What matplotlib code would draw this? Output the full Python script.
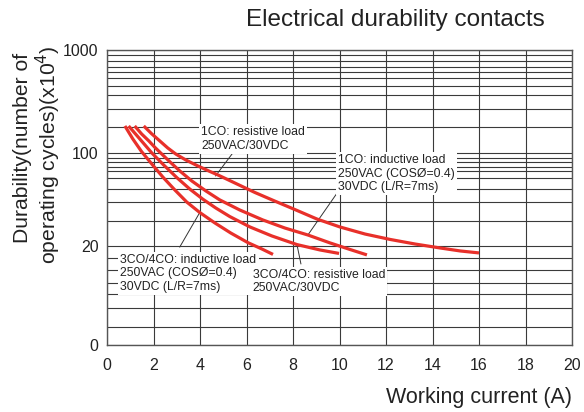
import numpy as np
import matplotlib.pyplot as plt
from matplotlib.scale import FuncScale

plt.rcParams['font.family'] = ['Liberation Sans', 'DejaVu Sans']

# durability curves, x = working current (A), y = durability (x10^4)
x_3co_ind = [0.77, 1.11, 1.49, 1.93, 2.40, 2.92, 3.43, 3.99, 4.64, 5.33, 6.06, 6.66, 7.14]
y_3co_ind = [183, 137, 103, 82.6, 66.0, 52.7, 42.8, 35.7, 29.8, 25.0, 21.2, 19.4, 18.3]
x_3co_res = [0.93, 1.41, 1.93, 2.44, 3.00, 3.56, 4.12, 4.68, 5.28, 6.15, 7.09, 8.17, 9.16, 9.98]
y_3co_res = [183, 137, 100, 81.2, 65.4, 53.6, 45.0, 38.6, 33.3, 27.8, 23.8, 20.5, 19.2, 18.5]
x_1co_ind = [1.19, 1.49, 1.80, 2.05, 2.31, 2.71, 3.13, 3.65, 4.25, 4.85, 5.71, 6.70, 7.65,
             8.64, 9.59, 10.45, 11.18]
y_1co_ind = [183, 153, 131, 114, 100, 85.7, 73.3, 61.6, 51.9, 44.4, 37.3, 31.4, 27.3,
             24.2, 21.1, 19.3, 18.2]
x_1co_res = [1.58, 1.93, 2.27, 2.61, 2.96, 3.39, 3.91, 4.42, 4.77, 5.50, 6.36, 7.22, 8.08,
             9.03, 10.02, 11.10, 12.18, 13.25, 14.33, 15.19, 16.0]
y_1co_res = [183, 153, 131, 112, 98.2, 88.6, 79.9, 72.7, 68.4, 59.5, 50.5, 43.5, 37.6,
             31.9, 27.8, 24.6, 22.4, 20.7, 19.6, 19.0, 18.6]

x_ticks = [0, 2, 4, 6, 8, 10, 12, 14, 16, 18, 20]
y_ticks = [0, 20, 100, 1000]
y_grid = [3.6, 7.5, 10.3, 12.5, 15.2, 17.6,
          31, 43, 54, 65, 73, 79, 86, 92,
          180, 265, 365, 445, 535, 610, 680, 780, 890]


# piecewise axis: 0-20 linear, 20-100 and 100-1000 logarithmic
def fwd(v):
    v = np.asarray(v, dtype=float)
    vs = np.maximum(v, 1e-9)
    lo = v / 20 * 99
    mid = 99 + 93 * np.log(vs / 20) / np.log(5)
    hi = 192 + 103 * np.log10(vs / 100)
    return np.where(v <= 20, lo, np.where(v <= 100, mid, hi))


def inv(p):
    p = np.asarray(p, dtype=float)
    lo = p / 99 * 20
    mid = 20 * 5 ** ((p - 99) / 93)
    hi = 100 * 10 ** ((p - 192) / 103)
    return np.where(p <= 99, lo, np.where(p <= 192, mid, hi))


fig = plt.figure(figsize=(5.84, 4.12), dpi=100)
ax = fig.add_axes([107 / 584, 1 - 345 / 412, 465 / 584, 295 / 412])
ax.set_yscale(FuncScale(ax, (fwd, inv)))
ax.set_xlim(0, 20)
ax.set_ylim(0, 1000)

gcol = '#3a3a3a'
for g in y_grid + y_ticks:
    ax.axhline(g, color=gcol, lw=0.8, zorder=1)
for g in x_ticks:
    ax.axvline(g, color=gcol, lw=0.8, zorder=1)

red = '#e8302a'
for xs, ys in [(x_3co_ind, y_3co_ind), (x_3co_res, y_3co_res),
               (x_1co_ind, y_1co_ind), (x_1co_res, y_1co_res)]:
    ax.plot(xs, ys, color=red, lw=2.3, solid_capstyle='butt',
            solid_joinstyle='round', zorder=3)

ax.set_xticks(x_ticks)
ax.set_yticks(y_ticks)
ax.set_yticklabels([str(t) for t in y_ticks])
ax.yaxis.set_minor_locator(plt.NullLocator())
ax.tick_params(length=0, labelsize=11.5, colors='#222222')
ax.tick_params(axis='x', pad=9)
ax.tick_params(axis='y', pad=6)
for s in ax.spines.values():
    s.set_color('#555555')
    s.set_linewidth(1.0)

tkw = dict(fontsize=8.8, color='#222222', va='top', ha='left', zorder=4,
           linespacing=1.15,
           bbox=dict(facecolor='white', edgecolor='none', pad=1.5))
ax.text(4.05, 182, '1CO: resistive load\n250VAC/30VDC', **tkw)
ax.text(9.95, 98, '1CO: inductive load\n250VAC (COSØ=0.4)\n30VDC (L/R=7ms)', **tkw)
ax.text(0.58, 18.4, '3CO/4CO: inductive load\n250VAC (COSØ=0.4)\n30VDC (L/R=7ms)', **tkw)
ax.text(6.27, 15.4, '3CO/4CO: resistive load\n250VAC/30VDC', **tkw)

lkw = dict(color='#333333', lw=0.7, zorder=2)
ax.plot([5.41, 4.67], [100, 67.3], **lkw)
ax.plot([9.93, 8.64], [51, 24.2], **lkw)
ax.plot([3.13, 3.99], [19.8, 35.7], **lkw)
ax.plot([8.34, 8.17], [16.4, 20.5], **lkw)

fig.text(0.677, 0.951, 'Electrical durability contacts', fontsize=17.5,
         ha='center', va='center', color='#222222')
fig.text(0.98, 0.035, 'Working current (A)', fontsize=15.5,
         ha='right', va='center', color='#222222')
fig.text(0.038, 0.641, 'Durability(number of', fontsize=15.2, rotation=90,
         ha='center', va='center', color='#222222')
fig.text(0.083, 0.624, 'operating cycles)(x10$^4$)', fontsize=15.2,
         rotation=90, ha='center', va='center', color='#222222')

fig.savefig('out.png', dpi=100)
